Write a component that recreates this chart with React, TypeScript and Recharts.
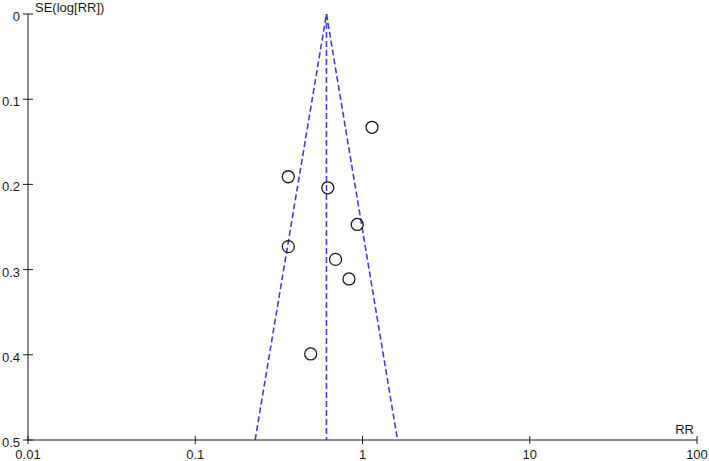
import { ScatterChart, Scatter, XAxis, YAxis } from 'recharts'

// study estimates
const rr = [1.14, 0.36, 0.62, 0.93, 0.36, 0.69, 0.83, 0.49]
const se = [0.133, 0.191, 0.204, 0.247, 0.273, 0.288, 0.311, 0.399]

// funnel outline and pooled estimate
const funnelRR = [0.228, 0.609, 1.62]
const funnelSE = [0.5, 0, 0.5]
const pooledRR = [0.609, 0.609]
const pooledSE = [0, 0.5]

const xTicks = [0.01, 0.1, 1, 10, 100]
const yTicks = [0, 0.1, 0.2, 0.3, 0.4, 0.5]

const FONT = '"Liberation Sans", Arial, sans-serif'
const BLUE = '#3d3dda'
const INK = '#1a1a1a'

const studies = rr.map((v, i) => ({ rr: v, se: se[i] }))
const funnel = funnelRR.map((v, i) => ({ rr: v, se: funnelSE[i] }))
const pooled = pooledRR.map((v, i) => ({ rr: v, se: pooledSE[i] }))

const YTick = ({ x, y, payload }: any) => (
  <g>
    <line x1={x - 5} x2={x + 5} y1={y} y2={y} stroke={INK} />
    <text x={x - 8} y={y + 7} textAnchor="end" fontSize={13} fontFamily={FONT} fill={INK}>
      {String(payload.value)}
    </text>
  </g>
)

const XTick = ({ x, y, payload }: any) => (
  <g>
    <line x1={x} x2={x} y1={y - 4} y2={y + 4} stroke={INK} />
    <text x={x} y={y + 19} textAnchor="middle" fontSize={13} fontFamily={FONT} fill={INK}>
      {String(payload.value)}
    </text>
  </g>
)

const Ring = ({ cx, cy }: any) => (
  <circle cx={cx} cy={cy} r={6} fill="none" stroke={INK} strokeWidth={1.3} />
)

const NoDot = () => <g />

export default function App() {
  return (
    <div style={{ position: 'absolute', left: 0, top: 0 }}>
      <ScatterChart width={709} height={461} margin={{ top: 14, right: 12, bottom: 20, left: 27 }}>
        <XAxis
          dataKey="rr"
          type="number"
          scale="log"
          domain={[0.01, 100]}
          ticks={xTicks}
          allowDataOverflow
          height={1}
          tickSize={0}
          tickMargin={0}
          tickLine={false}
          axisLine={{ stroke: INK }}
          tick={<XTick />}
          interval={0}
        />
        <YAxis
          dataKey="se"
          type="number"
          domain={[0, 0.5]}
          ticks={yTicks}
          reversed
          allowDataOverflow
          width={1}
          tickSize={0}
          tickMargin={0}
          tickLine={false}
          axisLine={{ stroke: INK }}
          tick={<YTick />}
          interval={0}
        />
        <Scatter
          data={funnel}
          line={{ stroke: BLUE, strokeWidth: 1.6, strokeDasharray: '6 3' }}
          shape={<NoDot />}
          isAnimationActive={false}
        />
        <Scatter
          data={pooled}
          line={{ stroke: BLUE, strokeWidth: 1.6, strokeDasharray: '6 3' }}
          shape={<NoDot />}
          isAnimationActive={false}
        />
        <Scatter data={studies} shape={<Ring />} isAnimationActive={false} />
        <text x={35} y={12} fontSize={13} fontFamily={FONT} fill={INK}>SE(log[RR])</text>
        <text x={694} y={434} textAnchor="end" fontSize={13} fontFamily={FONT} fill={INK}>RR</text>
      </ScatterChart>
    </div>
  )
}
